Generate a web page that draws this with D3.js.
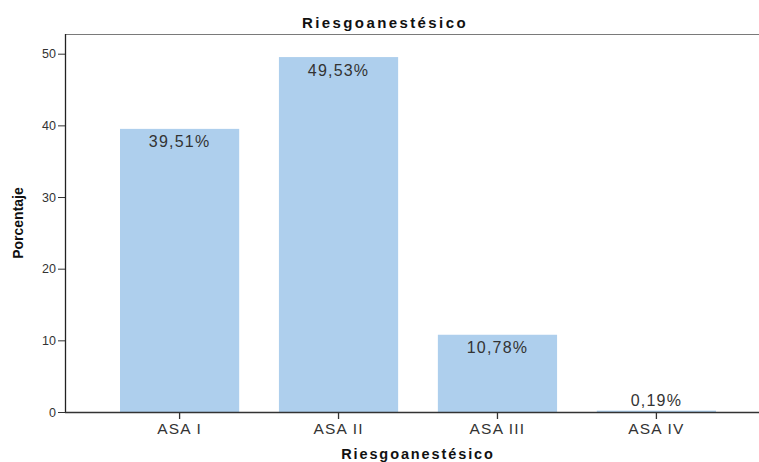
<!DOCTYPE html>
<html>
<head>
<meta charset="utf-8">
<script src="https://cdn.jsdelivr.net/npm/d3@7"></script>
<style>
  html, body { margin: 0; padding: 0; background: #fff; }
  svg { display: block; font-family: "Liberation Sans", Arial, sans-serif; }
</style>
</head>
<body>
<svg id="chart" width="759" height="462"></svg>
<script>
// Distribución del riesgo anestésico (clasificación ASA)
const categories = ["ASA I", "ASA II", "ASA III", "ASA IV"];
const percentages = [39.51, 49.53, 10.78, 0.19];
const percentLabels = ["39,51%", "49,53%", "10,78%", "0,19%"];
const yTicks = [0, 10, 20, 30, 40, 50];

const svg = d3.select("#chart");
const W = 759, H = 462;
const plot = { left: 65, top: 34, bottom: 412, right: 771 };

const x = d3.scaleBand()
  .domain(categories)
  .range([plot.left, plot.right])
  .paddingInner(0.25)
  .paddingOuter(0.346);

const y = d3.scaleLinear()
  .domain([0, 50])
  .range([plot.bottom, 53.7]);

// top frame line
svg.append("line")
  .attr("x1", plot.left).attr("x2", W)
  .attr("y1", plot.top + 0.5).attr("y2", plot.top + 0.5)
  .attr("stroke", "#7a7a7a").attr("stroke-width", 1);

// bars
svg.append("g").selectAll("rect")
  .data(categories)
  .join("rect")
  .attr("x", d => x(d))
  .attr("width", x.bandwidth())
  .attr("y", (d, i) => y(percentages[i]))
  .attr("height", (d, i) => y(0) - y(percentages[i]))
  .attr("fill", "#aecfed");

// value labels
svg.append("g").selectAll("text")
  .data(categories)
  .join("text")
  .attr("x", d => x(d) + x.bandwidth() / 2)
  .attr("y", (d, i) => {
    const top = y(percentages[i]);
    return (y(0) - top) > 20 ? top + 18.5 : top - 5;
  })
  .attr("text-anchor", "middle")
  .attr("font-size", 16)
  .attr("letter-spacing", 1.2)
  .attr("fill", "#333")
  .text((d, i) => percentLabels[i]);

// y axis
const yAxis = svg.append("g")
  .attr("transform", `translate(${plot.left},0)`)
  .call(d3.axisLeft(y).tickValues(yTicks).tickSize(7).tickPadding(2).tickFormat(d3.format("d")));
yAxis.select(".domain").remove();
yAxis.append("line")
  .attr("x1", 0.5).attr("x2", 0.5)
  .attr("y1", plot.top).attr("y2", plot.bottom + 1)
  .attr("stroke", "#222").attr("stroke-width", 1.3);
yAxis.selectAll(".tick line").attr("stroke", "#333");
yAxis.selectAll(".tick text")
  .attr("font-size", 12.5)
  .attr("fill", "#333")
  .attr("font-family", "Liberation Sans, Arial, sans-serif");

// x axis
const xAxis = svg.append("g")
  .attr("transform", `translate(0,${plot.bottom})`)
  .call(d3.axisBottom(x).tickSize(7).tickPadding(4));
xAxis.select(".domain").remove();
xAxis.append("line")
  .attr("x1", plot.left).attr("x2", W)
  .attr("y1", 0.5).attr("y2", 0.5)
  .attr("stroke", "#333").attr("stroke-width", 1.3);
xAxis.selectAll(".tick line").attr("stroke", "#333").attr("stroke-width", 1.3);
xAxis.selectAll(".tick text")
  .attr("font-size", 15.5)
  .attr("letter-spacing", 1.2)
  .attr("fill", "#333")
  .attr("font-family", "Liberation Sans, Arial, sans-serif");

// titles
svg.append("text")
  .attr("x", 385).attr("y", 28)
  .attr("text-anchor", "middle")
  .attr("font-size", 15)
  .attr("font-weight", "bold")
  .attr("letter-spacing", 2.4)
  .attr("fill", "#111")
  .text("Riesgoanestésico");

svg.append("text")
  .attr("x", (x("ASA I") + x("ASA IV") + x.bandwidth()) / 2)
  .attr("y", 459)
  .attr("text-anchor", "middle")
  .attr("font-size", 14.5)
  .attr("font-weight", "bold")
  .attr("letter-spacing", 1.9)
  .attr("fill", "#111")
  .text("Riesgoanestésico");

svg.append("text")
  .attr("transform", "translate(23,223) rotate(-90)")
  .attr("text-anchor", "middle")
  .attr("font-size", 14)
  .attr("font-weight", "bold")
  .attr("fill", "#111")
  .text("Porcentaje");
</script>
</body>
</html>
